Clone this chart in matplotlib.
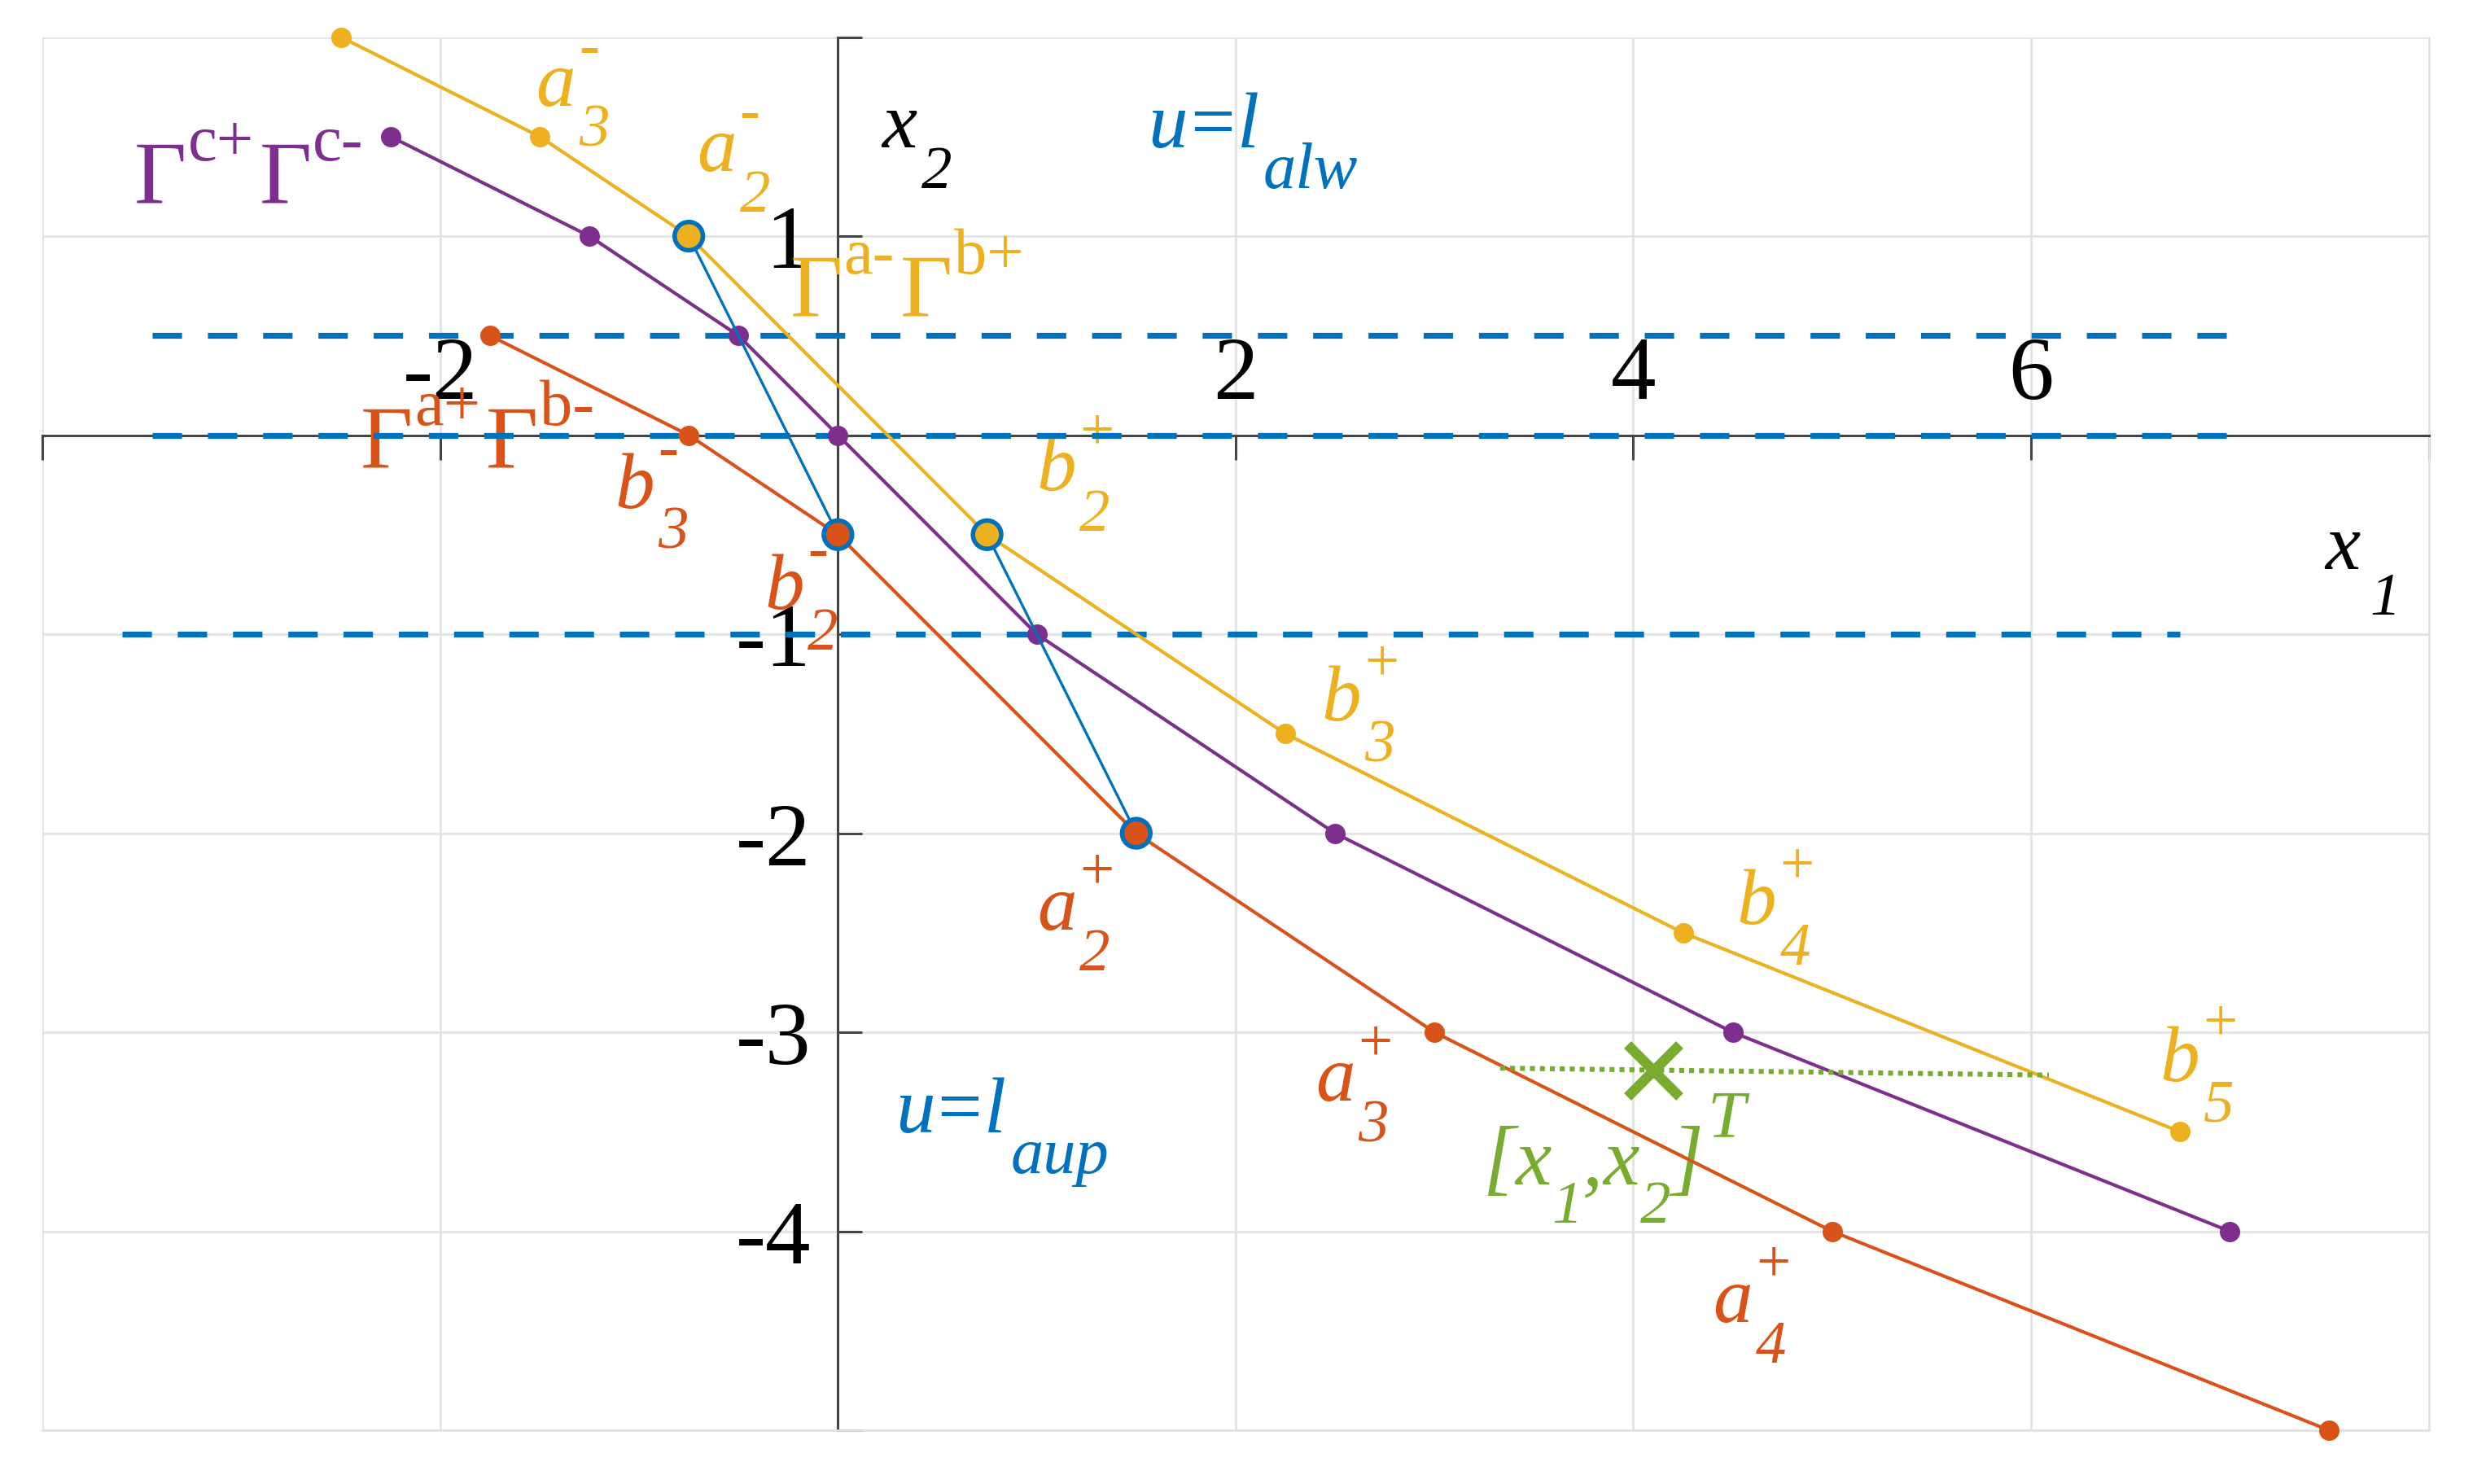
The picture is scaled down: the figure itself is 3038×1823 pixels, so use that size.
import numpy as np
import matplotlib
matplotlib.use("Agg")
import matplotlib.pyplot as plt

plt.rcParams['font.family'] = ['Liberation Serif', 'DejaVu Serif']
plt.rcParams['axes.unicode_minus'] = False

# MATLAB default colours
c_blue = "#0072BD"
c_red = "#D95319"
c_yellow = "#EDB120"
c_purple = "#7E2F8E"
c_green = "#77AC30"

# Switching curves (vertices)
ab_x = [-2.5, -1.5, -0.75, 0.75, 2.25, 4.25, 6.75]   # Gamma^{a-} Gamma^{b+}
ab_y = [2.0, 1.5, 1.0, -0.5, -1.5, -2.5, -3.5]
cc_x = [-2.25, -1.25, -0.5, 0.0, 1.0, 2.5, 4.5, 7.0]  # Gamma^{c+} Gamma^{c-}
cc_y = [1.5, 1.0, 0.5, 0.0, -1.0, -2.0, -3.0, -4.0]
ba_x = [-1.75, -0.75, 0.0, 1.5, 3.0, 5.0, 7.5]      # Gamma^{a+} Gamma^{b-}
ba_y = [0.5, 0.0, -0.5, -2.0, -3.0, -4.0, -5.0]

# blue connecting segments
seg1_x = [-0.75, 0.0]
seg1_y = [1.0, -0.5]
seg2_x = [0.75, 1.5]
seg2_y = [-0.5, -2.0]

# dashed horizontal lines
hl_y = [0.5, 0.0, -1.0]
hl_x0 = [-3.45, -3.45, -3.6]
hl_x1 = [7.0, 7.0, 6.75]

# state point and its dotted line
state_x = 4.1
state_y = -3.19
dot_x = [3.33, 6.09]
dot_y = [-3.18, -3.215]

xticks = [-4, -2, 0, 2, 4, 6, 8]
xticklabels = ['', '-2', '', '2', '4', '6', '']
yticks = [-5, -4, -3, -2, -1, 0, 1, 2]
yticklabels = ['', '-4', '-3', '-2', '-1', '', '1', '']

# point labels: letter, subscript, superscript
pt_text = [('a', '3', '-'), ('a', '2', '-'), ('b', '3', '-'), ('b', '2', '-'),
           ('b', '2', '+'), ('b', '3', '+'), ('b', '4', '+'), ('b', '5', '+'),
           ('a', '2', '+'), ('a', '3', '+'), ('a', '4', '+')]
pt_color = [c_yellow, c_yellow, c_red, c_red,
            c_yellow, c_yellow, c_yellow, c_yellow,
            c_red, c_red, c_red]
# curve names: superscripts of the two Gammas
gam_sup = [('c+', 'c-'), ('a-', 'b+'), ('a+', 'b-')]
gam_color = [c_purple, c_yellow, c_red]

fig = plt.figure(figsize=(15.19, 9.12), dpi=200)
ax = fig.add_axes([0.0172, 0.0361, 0.9649, 0.9384])
ax.set_xlim(-4, 8)
ax.set_ylim(-5, 2)

ax.spines['left'].set_position(('data', 0))
ax.spines['top'].set_position(('data', 0))
for s in ['left', 'top']:
    ax.spines[s].set_color('#454545')
    ax.spines[s].set_linewidth(1.1)
for s in ['right', 'bottom']:
    ax.spines[s].set_color('#e3e3e3')
    ax.spines[s].set_linewidth(1.0)
ax.xaxis.set_ticks_position('top')
ax.yaxis.set_ticks_position('left')
ax.set_xticks(xticks)
ax.set_xticklabels(xticklabels)
ax.set_yticks(yticks)
ax.set_yticklabels(yticklabels)
ax.tick_params(axis='x', direction='in', length=10.8, width=1.1, pad=8,
               labelsize=40, color='#454545', labelcolor='black')
ax.tick_params(axis='y', direction='in', length=10.8, width=1.1, pad=12,
               labelsize=40, color='#454545', labelcolor='black')
ax.grid(True, color='#e3e3e3', lw=1.0)
ax.set_axisbelow(True)

# dashed lines
for y, xa, xb in zip(hl_y, hl_x0, hl_x1):
    ax.plot([xa, xb], [y, y], color=c_blue, lw=2.6, ls=(0, (5, 4.4)), zorder=3)

# curves
ax.plot(ab_x, ab_y, color=c_yellow, lw=1.5, marker='o', ms=8, zorder=4, clip_on=False)
ax.plot(cc_x, cc_y, color=c_purple, lw=1.5, marker='o', ms=8, zorder=4, clip_on=False)
ax.plot(ba_x, ba_y, color=c_red, lw=1.5, marker='o', ms=8, zorder=4, clip_on=False)

ax.plot(seg1_x, seg1_y, color=c_blue, lw=1.2, zorder=4.5)
ax.plot(seg2_x, seg2_y, color=c_blue, lw=1.2, zorder=4.5)
ax.scatter(seg1_x + seg2_x, seg1_y + seg2_y, s=12.5**2,
           facecolors=[c_yellow, c_red, c_yellow, c_red],
           edgecolors=c_blue, linewidths=2.0, zorder=6)

ax.plot(dot_x, dot_y, color=c_green, lw=2.2, ls=(0, (1, 1)), zorder=4)
ax.plot([state_x], [state_y], color=c_green, marker='x', ms=23, mew=4.5, ls='none', zorder=6)

# ---- text labels built from pieces (main letter, subscript, superscript)
renderer = fig.canvas.get_renderer()


def put(x, y, segs, color):
    # segs: (text, size, rise in pt, italic, gap after; None = don't advance)
    dx = 0.0
    for s, size, rise, ital, gap in segs:
        t = ax.annotate(s, xy=(x, y), xytext=(dx, rise), textcoords='offset points',
                        fontsize=size, fontstyle='italic' if ital else 'normal',
                        color=color, ha='left', va='baseline', zorder=2.8,
                        annotation_clip=False)
        if gap is not None:
            dx += t.get_window_extent(renderer).width * 72.0 / fig.dpi + gap


pt_pos = [(-1.52, 1.66), (-0.71, 1.33), (-1.12, -0.36), (-0.37, -0.87),
          (1.0, -0.27), (2.43, -1.43), (4.52, -2.45), (6.65, -3.24),
          (1.0, -2.48), (2.40, -3.34), (4.40, -4.45)]
for (m, sb, sp), (x, y), col in zip(pt_text, pt_pos, pt_color):
    put(x, y, [(m, 35, 0, True, 1.5), (sb, 27, -18, True, None), (sp, 27, 18, False, None)], col)

gam_pos = [(-3.54, 1.17), (-0.24, 0.60), (-2.40, -0.16)]
for (s1, s2), (x, y), col in zip(gam_sup, gam_pos, gam_color):
    put(x, y, [('Γ', 40, 0, False, 0.5), (s1, 29, 19, False, 2.5),
               ('Γ', 40, 0, False, 0.5), (s2, 29, 19, False, None)], col)

put(0.29, -3.50, [('u', 35, 0, True, 1), ('=', 35, 0, False, 1), ('l', 35, 0, True, 2),
                  ('aup', 29, -18, True, None)], c_blue)
put(1.56, 1.45, [('u', 35, 0, True, 1), ('=', 35, 0, False, 1), ('l', 35, 0, True, 2),
                 ('alw', 29, -18, True, None)], c_blue)
put(0.22, 1.45, [('x', 35, 0, True, 2), ('2', 27, -18, True, None)], 'black')
put(7.48, -0.67, [('x', 35, 0, True, 4), ('1', 27, -20, True, None)], 'black')
put(3.24, -3.76, [('[', 37, 0, True, 0), ('x', 36, 0, True, 0.5), ('1', 27, -17, True, 0),
                  (',', 36, 0, True, 0), ('x', 36, 0, True, 0.5), ('2', 27, -17, True, 0),
                  (']', 37, 0, True, 2), ('T', 30, 21, True, None)], c_green)

fig.savefig("out.png", dpi=200)
